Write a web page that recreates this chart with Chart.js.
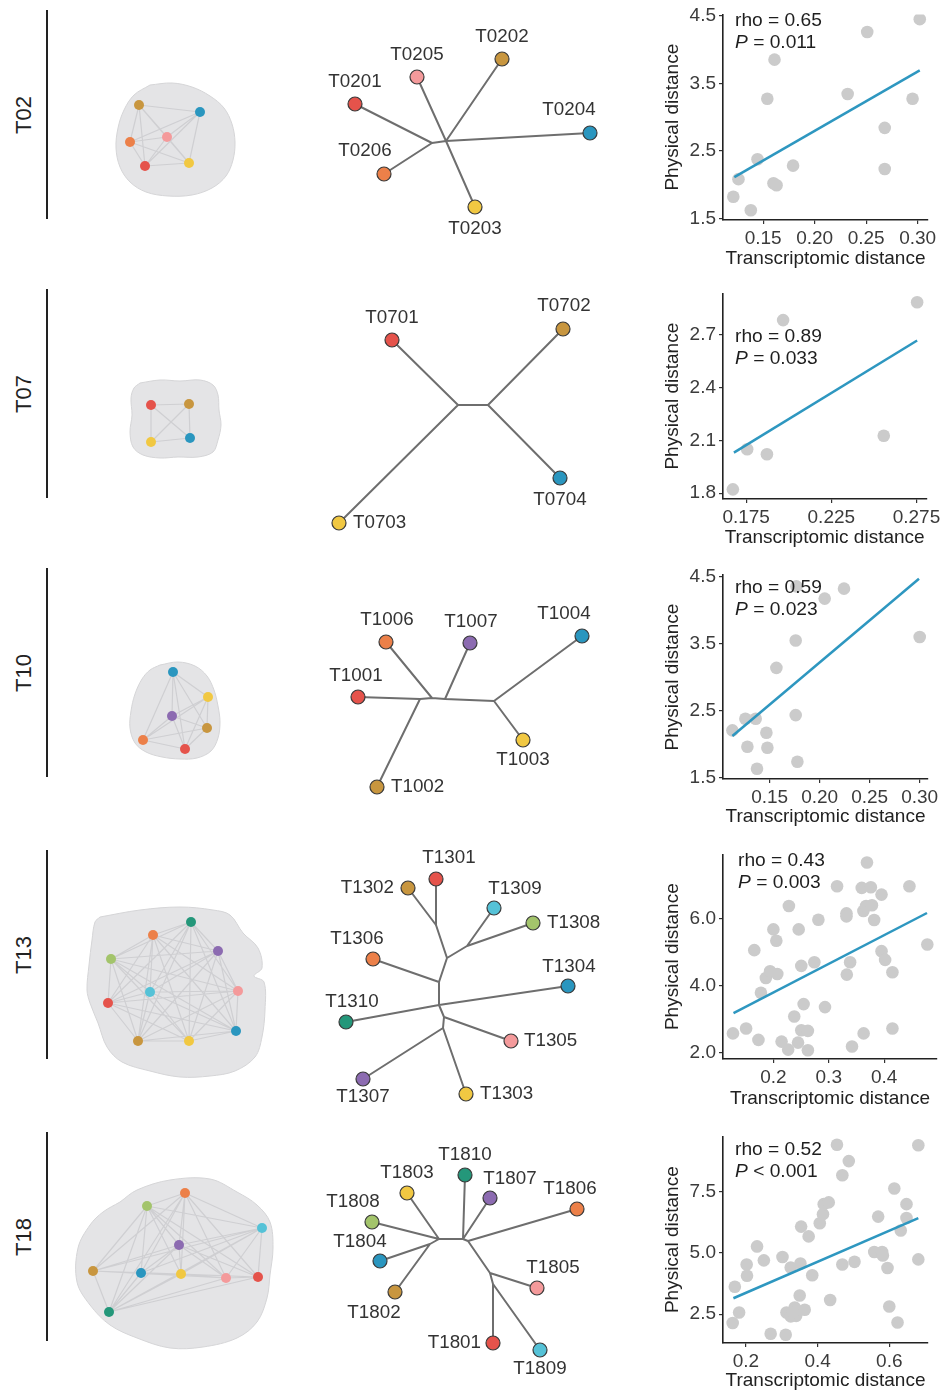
<!DOCTYPE html>
<html>
<head>
<meta charset="utf-8">
<title>Transcriptomic vs physical distance</title>
<script src="https://cdn.jsdelivr.net/npm/chart.js@4.4.1/dist/chart.umd.min.js"></script>
<style>
  html, body { margin: 0; padding: 0; background: #fff; }
  body { position: relative; width: 944px; height: 1396px; overflow: hidden; font-family: "Liberation Sans", Arial, sans-serif; }
  .row { position: absolute; left: 0; width: 944px; height: 274px; }
  .row canvas { position: absolute; top: 0; }
  .bar { position: absolute; left: 46px; top: 10px; width: 2px; height: 209px; background: #222; }
  .tag { position: absolute; left: 24px; top: 115px; transform: translate(-50%, -50%) rotate(-90deg); font-size: 22px; color: #222; white-space: nowrap; }
  .stat { position: absolute; font-size: 19.2px; line-height: 22.5px; color: #1e1e1e; white-space: nowrap; }
</style>
</head>
<body>
<script>
// ---------- data ----------
var tumours = ["T02", "T07", "T10", "T13", "T18"];
var rhoLabels = ["rho = 0.65", "rho = 0.89", "rho = 0.59", "rho = 0.43", "rho = 0.52"];
var pLabels = ["= 0.011", "= 0.033", "= 0.023", "= 0.003", "< 0.001"];

// T02
var t02NetX = [139, 200, 130, 167, 145, 189];
var t02NetY = [105, 112, 142, 137, 166, 163];
var t02NetCol = ["gold", "blue", "orange", "pink", "red", "yellow"];
var t02BlobX = [150, 172, 192, 210, 224, 232, 235, 233, 226, 212, 192, 168, 146, 130, 120, 116, 118, 124, 134];
var t02BlobY = [85, 83, 87, 96, 108, 124, 142, 160, 176, 188, 195, 196, 192, 182, 167, 148, 128, 110, 95];
var t02Leaf = ["T0201", "T0205", "T0202", "T0204", "T0206", "T0203"];
var t02LeafX = [355, 417, 502, 590, 384, 475];
var t02LeafY = [104, 77, 59, 133, 174, 207];
var t02LeafCol = ["red", "pink", "gold", "blue", "orange", "yellow"];
var t02Inner = ["a", "b"];
var t02InnerX = [432, 446];
var t02InnerY = [143, 141];
var t02Edges = [["T0201", "a"], ["T0206", "a"], ["a", "b"], ["b", "T0204"], ["b", "T0205"], ["b", "T0203"], ["b", "T0202"]];
var t02Trans = [0.121, 0.126, 0.138, 0.1445, 0.154, 0.161, 0.160, 0.163, 0.179, 0.232, 0.251, 0.268, 0.268, 0.295, 0.302];
var t02Phys = [1.82, 2.08, 1.62, 2.375, 3.27, 3.85, 2.02, 1.99, 2.28, 3.34, 4.26, 2.84, 2.23, 3.27, 4.45];
var t02FitTrans = [0.122, 0.302];
var t02FitPhys = [2.11, 3.69];
var t02XTicks = ["0.15", "0.20", "0.25", "0.30"];
var t02YTicks = ["1.5", "2.5", "3.5", "4.5"];

// T07
var t07NetX = [151, 189, 151, 190];
var t07NetY = [126, 125, 163, 159];
var t07NetCol = ["red", "gold", "yellow", "blue"];
var t07BlobX = [140, 160, 180, 200, 213, 218, 219, 221, 218, 213, 198, 178, 160, 143, 133, 130, 132, 131, 134];
var t07BlobY = [104, 101, 102, 101, 106, 116, 131, 146, 161, 173, 178, 178, 179, 176, 168, 153, 136, 119, 109];
var t07Leaf = ["T0701", "T0702", "T0703", "T0704"];
var t07LeafX = [392, 563, 339, 560];
var t07LeafY = [61, 50, 244, 199];
var t07LeafCol = ["red", "gold", "yellow", "blue"];
var t07Inner = ["a", "b"];
var t07InnerX = [458, 488];
var t07InnerY = [126, 126];
var t07Edges = [["T0701", "a"], ["T0703", "a"], ["a", "b"], ["b", "T0702"], ["b", "T0704"]];
var t07Trans = [0.1672, 0.1756, 0.1872, 0.1967, 0.2558, 0.2754];
var t07Phys = [1.822, 2.05, 2.022, 2.785, 2.127, 2.887];
var t07FitTrans = [0.1678, 0.2754];
var t07FitPhys = [2.031, 2.669];
var t07XTicks = ["0.175", "0.225", "0.275"];
var t07YTicks = ["1.8", "2.1", "2.4", "2.7"];

// T10
var t10NetX = [173, 208, 172, 207, 143, 185];
var t10NetY = [114, 139, 158, 170, 182, 191];
var t10NetCol = ["blue", "yellow", "purple", "gold", "orange", "red"];
var t10BlobX = [160, 178, 195, 207, 214, 218, 220, 218, 211, 197, 180, 162, 146, 135, 130, 131, 135, 142, 150];
var t10BlobY = [107, 104, 108, 118, 132, 148, 164, 180, 193, 200, 201, 199, 194, 185, 170, 153, 136, 121, 112];
var t10Leaf = ["T1006", "T1007", "T1004", "T1001", "T1003", "T1002"];
var t10LeafX = [386, 470, 582, 358, 523, 377];
var t10LeafY = [84, 85, 78, 139, 182, 229];
var t10LeafCol = ["orange", "purple", "blue", "red", "yellow", "gold"];
var t10Inner = ["a", "b", "c", "d"];
var t10InnerX = [420, 432, 445, 494];
var t10InnerY = [141, 140, 141, 143];
var t10Edges = [["T1001", "a"], ["a", "b"], ["b", "c"], ["c", "d"], ["d", "T1004"], ["d", "T1003"], ["a", "T1002"], ["b", "T1006"], ["c", "T1007"]];
var t10Trans = [0.1127, 0.1257, 0.1277, 0.136, 0.1373, 0.1467, 0.1477, 0.1567, 0.176, 0.176, 0.1777, 0.1767, 0.205, 0.2243, 0.30];
var t10Phys = [2.207, 2.381, 1.963, 2.381, 1.634, 2.172, 1.948, 3.142, 3.55, 2.435, 1.739, 4.36, 4.177, 4.326, 3.604];
var t10FitTrans = [0.1127, 0.2993];
var t10FitPhys = [2.122, 4.475];
var t10XTicks = ["0.15", "0.20", "0.25", "0.30"];
var t10YTicks = ["1.5", "2.5", "3.5", "4.5"];

// T13
var t13NetX = [191, 153, 218, 111, 150, 238, 108, 236, 138, 189];
var t13NetY = [82, 95, 111, 119, 152, 151, 163, 191, 201, 201];
var t13NetCol = ["teal", "orange", "purple", "green", "cyan", "pink", "red", "blue", "gold", "yellow"];
var t13BlobX = [100, 140, 180, 213, 230, 243, 258, 262, 254, 264, 265, 262, 255, 235, 210, 180, 150, 122, 107, 98, 90, 87, 89, 92, 95];
var t13BlobY = [77, 70, 67, 70, 75, 93, 108, 128, 136, 142, 170, 197, 217, 231, 236, 237, 231, 222, 207, 183, 163, 150, 125, 100, 82];
var t13Leaf = ["T1301", "T1302", "T1309", "T1308", "T1306", "T1304", "T1310", "T1305", "T1307", "T1303"];
var t13LeafX = [436, 408, 494, 533, 373, 568, 346, 511, 363, 466];
var t13LeafY = [39, 48, 68, 83, 119, 146, 182, 201, 239, 254];
var t13LeafCol = ["red", "gold", "cyan", "green", "orange", "blue", "teal", "pink", "purple", "yellow"];
var t13Inner = ["a", "b", "c", "d", "e", "f", "g"];
var t13InnerX = [436, 447, 467, 439, 439, 444, 443];
var t13InnerY = [85, 118, 106, 142, 165, 177, 188];
var t13Edges = [["T1301", "a"], ["T1302", "a"], ["a", "b"], ["T1309", "c"], ["T1308", "c"], ["c", "b"], ["b", "d"], ["T1306", "d"],
  ["d", "e"], ["T1310", "e"], ["e", "T1304"], ["e", "f"], ["f", "T1305"], ["f", "g"], ["g", "T1307"], ["g", "T1303"]];
var t13Trans = [0.127, 0.1507, 0.1655, 0.173, 0.1775, 0.1864, 0.194, 0.2, 0.2053, 0.207, 0.2148, 0.2267, 0.228, 0.2377, 0.2445,
  0.2457, 0.2504, 0.2504, 0.2546, 0.2623, 0.2623, 0.274, 0.2813, 0.2932, 0.315, 0.332, 0.332, 0.3326, 0.3386, 0.342,
  0.3596, 0.3626, 0.363, 0.3674, 0.369, 0.376, 0.378, 0.382, 0.3953, 0.3953, 0.4018, 0.415, 0.415, 0.4457, 0.478];
var t13Phys = [2.585, 2.73, 5.07, 2.39, 3.80, 4.24, 4.44, 5.69, 5.35, 4.36, 2.34, 2.10, 6.39, 3.09, 2.31,
  5.69, 4.60, 2.68, 3.46, 2.66, 2.08, 4.71, 5.98, 3.37, 6.98, 6.17, 6.08, 4.34, 4.71, 2.195,
  6.93, 6.24, 2.585, 6.39, 7.69, 6.95, 6.41, 5.97, 6.73, 5.04, 4.78, 4.41, 2.73, 6.98, 5.24];
var t13FitTrans = [0.128, 0.4774];
var t13FitPhys = [3.19, 6.18];
var t13XTicks = ["0.2", "0.3", "0.4"];
var t13YTicks = ["2.0", "4.0", "6.0"];

// T18
var t18NetX = [185, 147, 262, 179, 93, 141, 181, 226, 258, 109];
var t18NetY = [71, 84, 106, 123, 149, 151, 152, 156, 155, 190];
var t18NetCol = ["orange", "green", "cyan", "purple", "gold", "blue", "yellow", "pink", "red", "teal"];
var t18BlobX = [120, 137, 170, 210, 237, 257, 270, 273, 270, 267, 257, 237, 203, 170, 137, 110, 90, 77, 78, 90, 103];
var t18BlobY = [80, 68, 58, 57, 70, 83, 100, 126, 153, 176, 200, 216, 225, 226, 216, 203, 183, 160, 126, 103, 90];
var t18Leaf = ["T1810", "T1803", "T1807", "T1806", "T1808", "T1804", "T1802", "T1805", "T1801", "T1809"];
var t18LeafX = [465, 407, 490, 577, 372, 380, 395, 537, 493, 540];
var t18LeafY = [53, 71, 76, 87, 100, 139, 170, 166, 221, 228];
var t18LeafCol = ["teal", "yellow", "purple", "orange", "green", "blue", "gold", "pink", "red", "cyan"];
var t18Inner = ["a", "b", "c", "d", "e", "f"];
var t18InnerX = [439, 430, 463, 468, 490, 493];
var t18InnerY = [117, 122, 117, 119, 151, 162];
var t18Edges = [["T1803", "a"], ["T1808", "a"], ["a", "b"], ["b", "T1804"], ["b", "T1802"], ["a", "c"], ["c", "T1810"], ["c", "T1807"],
  ["c", "d"], ["d", "T1806"], ["d", "e"], ["e", "T1805"], ["e", "f"], ["f", "T1801"], ["f", "T1809"]];
var t18Trans = [0.163, 0.169, 0.181, 0.202, 0.203, 0.231, 0.25, 0.269, 0.302, 0.311, 0.313, 0.325, 0.325, 0.336, 0.34,
  0.35, 0.352, 0.354, 0.364, 0.375, 0.385, 0.406, 0.415, 0.417, 0.431, 0.435, 0.454, 0.469, 0.469, 0.487,
  0.503, 0.558, 0.569, 0.58, 0.582, 0.595, 0.6, 0.614, 0.623, 0.632, 0.648, 0.648, 0.681, 0.681, 0.331];
var t18Phys = [2.135, 3.62, 2.57, 4.53, 4.07, 5.27, 4.70, 1.70, 4.84, 1.66, 2.57, 4.41, 2.41, 2.77, 2.43,
  3.26, 4.57, 6.08, 2.68, 5.68, 4.09, 6.22, 6.59, 7.0, 7.07, 3.08, 9.43, 8.18, 4.53, 8.76,
  4.64, 5.04, 6.49, 5.04, 4.9, 4.39, 2.81, 7.64, 2.16, 5.92, 7.0, 6.43, 9.41, 4.74, 2.58];
var t18FitTrans = [0.165, 0.681];
var t18FitPhys = [3.15, 6.43];
var t18XTicks = ["0.2", "0.4", "0.6"];
var t18YTicks = ["2.5", "5.0", "7.5"];

// axis ranges of the scatter panels
var xMin = [0.111, 0.1614, 0.1033, 0.109, 0.136];
var xMax = [0.31, 0.2808, 0.3083, 0.4955, 0.708];
var yMin = [1.475, 1.767, 1.48, 1.82, 1.32];
var yMax = [4.52, 2.937, 4.53, 7.93, 9.77];

// ---------- layout / style ----------
var rowTop = [0, 279, 558, 840, 1122];
var plotTop = [13, 9, 17, 11, 12];
var plotBottom = [220, 220, 221, 219, 221];
var plotRight = [928, 928, 928, 937, 928];
var statLeft = [735, 735, 735, 738, 735];
var statMid = [20, 57, 29, 20, 27];

// label offset from each leaf: dx, dy, alignment
var t02LabelAt = [[0, -22, "c"], [0, -22, "c"], [0, -22, "c"], [-21, -23, "c"], [-19, -23, "c"], [0, 22, "c"]];
var t07LabelAt = [[0, -22, "c"], [1, -23, "c"], [14, 0, "l"], [0, 22, "c"]];
var t10LabelAt = [[1, -22, "c"], [1, -21, "c"], [-18, -22, "c"], [-2, -21, "c"], [0, 20, "c"], [14, 0, "l"]];
var t13LabelAt = [[13, -21, "c"], [-14, 0, "r"], [21, -19, "c"], [14, 0, "l"], [-16, -20, "c"], [1, -19, "c"],
  [6, -20, "c"], [13, 0, "l"], [0, 18, "c"], [14, 0, "l"]];
var t18LabelAt = [[0, -20, "c"], [0, -20, "c"], [20, -19, "c"], [-7, -20, "c"], [-19, -20, "c"], [-20, -19, "c"],
  [-21, 21, "c"], [16, -20, "c"], [-12, 0, "r"], [0, 19, "c"]];

var colours = {
  red: "#E5534B", gold: "#C8963F", yellow: "#F1C842", blue: "#2A96BF", pink: "#F49A9B",
  orange: "#EC8049", purple: "#8C6BB1", teal: "#24977A", green: "#A3C46B", cyan: "#55C2D7"
};
var FONT = "'Liberation Sans', Arial, sans-serif";

document.addEventListener("DOMContentLoaded", function () {
  Chart.defaults.font.family = FONT;

  var rows = [
    { net: [t02NetX, t02NetY, t02NetCol], blob: [t02BlobX, t02BlobY], leaf: [t02Leaf, t02LeafX, t02LeafY, t02LeafCol], inner: [t02Inner, t02InnerX, t02InnerY], edges: t02Edges, labelAt: t02LabelAt,
      sc: [t02Trans, t02Phys, t02FitTrans, t02FitPhys, t02XTicks, t02YTicks] },
    { net: [t07NetX, t07NetY, t07NetCol], blob: [t07BlobX, t07BlobY], leaf: [t07Leaf, t07LeafX, t07LeafY, t07LeafCol], inner: [t07Inner, t07InnerX, t07InnerY], edges: t07Edges, labelAt: t07LabelAt,
      sc: [t07Trans, t07Phys, t07FitTrans, t07FitPhys, t07XTicks, t07YTicks] },
    { net: [t10NetX, t10NetY, t10NetCol], blob: [t10BlobX, t10BlobY], leaf: [t10Leaf, t10LeafX, t10LeafY, t10LeafCol], inner: [t10Inner, t10InnerX, t10InnerY], edges: t10Edges, labelAt: t10LabelAt,
      sc: [t10Trans, t10Phys, t10FitTrans, t10FitPhys, t10XTicks, t10YTicks] },
    { net: [t13NetX, t13NetY, t13NetCol], blob: [t13BlobX, t13BlobY], leaf: [t13Leaf, t13LeafX, t13LeafY, t13LeafCol], inner: [t13Inner, t13InnerX, t13InnerY], edges: t13Edges, labelAt: t13LabelAt,
      sc: [t13Trans, t13Phys, t13FitTrans, t13FitPhys, t13XTicks, t13YTicks] },
    { net: [t18NetX, t18NetY, t18NetCol], blob: [t18BlobX, t18BlobY], leaf: [t18Leaf, t18LeafX, t18LeafY, t18LeafCol], inner: [t18Inner, t18InnerX, t18InnerY], edges: t18Edges, labelAt: t18LabelAt,
      sc: [t18Trans, t18Phys, t18FitTrans, t18FitPhys, t18XTicks, t18YTicks] }
  ];

  function pairs(xs, ys) {
    return xs.map(function (x, i) { return { x: x, y: ys[i] }; });
  }

  // draws the sample names next to the tree leaves
  function leafLabels(names, at) {
    return {
      id: "leafLabels",
      afterDatasetsDraw: function (chart) {
        var meta = chart.getDatasetMeta(4);
        var ctx = chart.ctx;
        ctx.save();
        ctx.font = "18.8px " + FONT;
        ctx.fillStyle = "#333";
        ctx.textBaseline = "middle";
        meta.data.forEach(function (pt, i) {
          var p = at[i];
          ctx.textAlign = p[2] === "l" ? "left" : p[2] === "r" ? "right" : "center";
          ctx.fillText(names[i], pt.x + p[0], pt.y + p[1]);
        });
        ctx.restore();
      }
    };
  }

  function mapChart(canvas, r) {
    var blob = pairs(r.blob[0], r.blob[1]);
    blob.push(blob[0]);
    var nodes = pairs(r.net[0], r.net[1]);
    var netEdges = [];
    for (var i = 0; i < nodes.length; i++) {
      for (var j = i + 1; j < nodes.length; j++) {
        netEdges.push(nodes[i], nodes[j], { x: nodes[j].x, y: null });
      }
    }
    var pos = {};
    r.leaf[0].forEach(function (n, i) { pos[n] = { x: r.leaf[1][i], y: r.leaf[2][i] }; });
    r.inner[0].forEach(function (n, i) { pos[n] = { x: r.inner[1][i], y: r.inner[2][i] }; });
    var treeEdges = [];
    r.edges.forEach(function (e) {
      treeEdges.push(pos[e[0]], pos[e[1]], { x: pos[e[1]].x, y: null });
    });
    var leaves = pairs(r.leaf[1], r.leaf[2]);

    new Chart(canvas, {
      type: "line",
      data: {
        datasets: [
          { data: blob, fill: "shape", backgroundColor: "#e4e4e6", borderColor: "#d5d5d7", borderWidth: 1,
            pointRadius: 0, tension: 0.35, order: 5, clip: false },
          { data: netEdges, borderColor: "#cfcfd2", borderWidth: 1.2, pointRadius: 0, spanGaps: false, order: 4, clip: false },
          { data: nodes, showLine: false, pointRadius: 5, pointBorderWidth: 0,
            pointBackgroundColor: r.net[2].map(function (c) { return colours[c]; }), order: 3, clip: false },
          { data: treeEdges, borderColor: "#6e6e6e", borderWidth: 2, pointRadius: 0, spanGaps: false, order: 2, clip: false },
          { data: leaves, showLine: false, pointRadius: 7, pointBorderWidth: 1.2, pointBorderColor: "#3a3a3a",
            pointBackgroundColor: r.leaf[3].map(function (c) { return colours[c]; }), order: 1, clip: false }
        ]
      },
      options: {
        animation: false,
        responsive: false,
        events: [],
        layout: { padding: 0, autoPadding: false },
        plugins: { legend: { display: false }, tooltip: { enabled: false } },
        scales: {
          x: { type: "linear", min: 0, max: 640, display: false },
          y: { type: "linear", min: 0, max: 274, reverse: true, display: false }
        }
      },
      plugins: [leafLabels(r.leaf[0], r.labelAt)]
    });
  }

  function scatterChart(canvas, r, k) {
    var s = r.sc;
    var xVals = s[4].map(Number);
    var yVals = s[5].map(Number);
    var tickFont = { family: FONT, size: 19 };
    new Chart(canvas, {
      type: "scatter",
      data: {
        datasets: [
          { data: pairs(s[2], s[3]), showLine: true, borderColor: "#2E97C0", borderWidth: 2.5, pointRadius: 0, order: 1 },
          { data: pairs(s[0], s[1]), pointRadius: 6.3, backgroundColor: "#CBCBCB", borderWidth: 0, order: 2 }
        ]
      },
      options: {
        animation: false,
        responsive: false,
        events: [],
        layout: { padding: { left: 0, right: 944 - plotRight[k], top: plotTop[k], bottom: 0 }, autoPadding: false },
        plugins: { legend: { display: false }, tooltip: { enabled: false } },
        scales: {
          x: {
            type: "linear", bounds: "data", min: xMin[k], max: xMax[k],
            afterFit: function (a) { a.height = 274 - plotBottom[k]; },
            afterBuildTicks: function (a) { a.ticks = xVals.map(function (v) { return { value: v }; }); },
            ticks: { autoSkip: false, maxRotation: 0, padding: 3, color: "#3b3b3b", font: tickFont,
              callback: function (v, i) { return s[4][i]; } },
            grid: { drawOnChartArea: false, drawTicks: true, tickLength: 4, color: "#333", lineWidth: 1.2 },
            border: { display: true, color: "#222", width: 1.6 },
            title: { display: true, text: "Transcriptomic distance", color: "#222", font: tickFont, padding: { top: 0, bottom: 4 } }
          },
          y: {
            type: "linear", bounds: "data", min: yMin[k], max: yMax[k],
            afterFit: function (a) { a.width = 68; },
            afterBuildTicks: function (a) { a.ticks = yVals.map(function (v) { return { value: v }; }); },
            ticks: { autoSkip: false, padding: 3, color: "#3b3b3b", font: tickFont,
              callback: function (v, i) { return s[5][i]; } },
            grid: { drawOnChartArea: false, drawTicks: true, tickLength: 4, color: "#333", lineWidth: 1.2 },
            border: { display: true, color: "#222", width: 1.6 },
            title: { display: true, text: "Physical distance", color: "#222", font: tickFont, padding: { top: 6, bottom: 0 } }
          }
        }
      }
    });
  }

  rows.forEach(function (r, k) {
    var row = document.createElement("div");
    row.className = "row";
    row.style.top = rowTop[k] + "px";
    row.innerHTML =
      '<div class="bar"></div><div class="tag">' + tumours[k] + "</div>" +
      '<canvas class="map" width="640" height="274" style="left:0"></canvas>' +
      '<canvas class="sc" width="289" height="274" style="left:655px"></canvas>' +
      '<div class="stat" style="left:' + statLeft[k] + "px;top:" + (statMid[k] - 11.25) + 'px">' +
      rhoLabels[k] + "<br><i>P</i> " + pLabels[k] + "</div>";
    document.body.appendChild(row);
    mapChart(row.querySelector(".map"), r);
    scatterChart(row.querySelector(".sc"), r, k);
  });
});
</script>
</body>
</html>
